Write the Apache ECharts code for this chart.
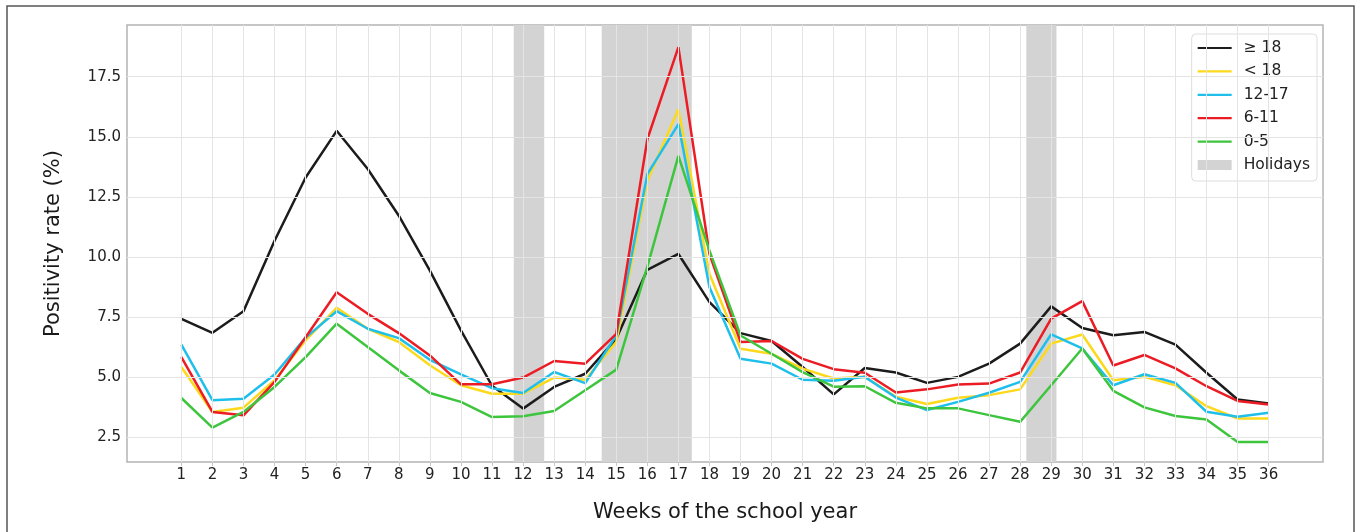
<!DOCTYPE html>
<html>
<head>
<meta charset="utf-8">
<script src="https://cdn.jsdelivr.net/npm/echarts@6/dist/echarts.min.js"></script>
<style>
	html,body{margin:0;padding:0;background:#fff}
	#chart{width:1362px;height:532px}
</style>
</head>
<body>
<div id="chart"></div>
<script>
var weeks = [1,2,3,4,5,6,7,8,9,10,11,12,13,14,15,16,17,18,19,20,21,22,23,24,25,26,27,28,29,30,31,32,33,34,35,36];
var yTicks = [2.5, 5.0, 7.5, 10.0, 12.5, 15.0, 17.5];
// holiday spans, in weeks
var holidays = [[11.7, 12.68], [14.53, 17.43], [28.2, 29.17]];

var ge18 = [7.43,6.85,7.75,10.68,13.31,15.25,13.66,11.72,9.44,6.95,4.65,3.70,4.60,5.15,6.60,9.47,10.13,8.13,6.84,6.51,5.43,4.29,5.39,5.20,4.77,5.02,5.57,6.40,7.95,7.05,6.75,6.89,6.36,5.19,4.08,3.91];
var lt18 = [5.43,3.56,3.74,4.88,6.54,7.89,7.02,6.47,5.50,4.67,4.32,4.32,4.99,4.90,6.47,13.17,16.15,9.30,6.19,5.98,5.36,4.95,5.02,4.19,3.89,4.15,4.26,4.50,6.40,6.78,4.88,5.02,4.67,3.80,3.29,3.29];
var a1217 = [6.36,4.05,4.11,5.12,6.65,7.75,7.02,6.63,5.73,5.12,4.55,4.35,5.22,4.76,6.74,13.45,15.53,8.75,5.77,5.57,4.90,4.86,5.02,4.16,3.64,3.98,4.36,4.81,6.79,6.20,4.67,5.13,4.77,3.57,3.36,3.53];
var a611 = [5.84,3.56,3.42,4.81,6.67,8.54,7.64,6.84,5.91,4.71,4.71,4.99,5.68,5.57,6.81,14.90,18.73,10.13,6.47,6.51,5.77,5.34,5.19,4.37,4.50,4.70,4.74,5.20,7.44,8.17,5.49,5.93,5.37,4.63,4.02,3.87];
var a05 = [4.14,2.91,3.56,4.60,5.84,7.23,6.26,5.29,4.35,3.98,3.35,3.38,3.60,4.46,5.32,9.60,14.21,10.27,6.74,5.98,5.22,4.61,4.63,3.94,3.71,3.71,3.43,3.15,4.67,6.20,4.44,3.75,3.39,3.25,2.31,2.31];

var groups = [
	{name: '≥ 18', data: ge18, color: '#1c1c1c'},
	{name: '< 18', data: lt18, color: '#fcd91b'},
	{name: '12-17', data: a1217, color: '#1fbfeb'},
	{name: '6-11', data: a611, color: '#ec1c24'},
	{name: '0-5', data: a05, color: '#3dc53d'}
];

var font = 'DejaVu Sans';
var myChart = echarts.init(document.getElementById('chart'));

var series = [
	{
		name: 'Holidays',
		type: 'line',
		data: [],
		color: '#d3d3d3',
		z: 1,
		markArea: {
			silent: true,
			itemStyle: {color: '#d3d3d3'},
			data: holidays.map(function (h) { return [{xAxis: h[0]}, {xAxis: h[1]}]; })
		}
	},
	{
		name: 'grid',
		type: 'line',
		data: [],
		z: 2,
		markLine: {
			silent: true,
			symbol: ['none', 'none'],
			label: {show: false},
			lineStyle: {color: '#e4e4e4', width: 1, type: 'solid'},
			data: weeks.map(function (w) { return {xAxis: w}; })
				.concat(yTicks.map(function (v) { return {yAxis: v}; }))
		}
	}
];
groups.forEach(function (g) {
	series.push({
		name: g.name,
		type: 'line',
		z: 3,
		symbol: 'none',
		color: g.color,
		lineStyle: {width: 2.5, color: g.color},
		data: weeks.map(function (w, i) { return [w, g.data[i]]; })
	});
});

// legend: thin bar (full 34x10 box so it is not stretched) for the groups, grey patch for holidays
var lineIcon = 'path://M0,0L0.01,0M0,3.9L34,3.9L34,6.1L0,6.1ZM34,10L33.99,10';
var legendData = groups.map(function (g) {
	return {name: g.name, icon: lineIcon, itemStyle: {borderWidth: 0}};
}).concat([{name: 'Holidays', icon: 'rect', itemStyle: {borderWidth: 0}}]);

var option = {
	animation: false,
	textStyle: {fontFamily: font},
	grid: {
		left: 127, right: 39, top: 25, bottom: 70,
		show: true, borderColor: '#b4b4b4', borderWidth: 1.5
	},
	legend: {
		orient: 'vertical',
		right: 45, top: 34,
		itemWidth: 34, itemHeight: 10, itemGap: 7.4,
		padding: [6, 7, 8, 6],
		backgroundColor: '#fff',
		borderColor: '#dddddd', borderWidth: 1, borderRadius: 4,
		textStyle: {fontFamily: font, fontSize: 15.5, lineHeight: 16, color: '#222', padding: [0, 0, 0, 7]},
		data: legendData
	},
	xAxis: {
		type: 'value',
		min: -0.75, max: 37.75,
		name: 'Weeks of the school year',
		nameLocation: 'middle', nameGap: 40,
		nameTextStyle: {fontFamily: font, fontSize: 21, color: '#1a1a1a'},
		axisLine: {show: false},
		axisTick: {show: true, customValues: weeks, length: 4, lineStyle: {color: '#c8c8c8'}},
		axisLabel: {customValues: weeks, fontFamily: font, fontSize: 15, color: '#222', margin: 6},
		splitLine: {show: false}
	},
	yAxis: {
		type: 'value',
		min: 1.48, max: 19.65,
		name: 'Positivity rate (%)',
		nameLocation: 'middle', nameGap: 63,
		nameTextStyle: {fontFamily: font, fontSize: 21, color: '#1a1a1a'},
		axisLine: {show: false},
		axisTick: {show: true, customValues: yTicks, length: 4, lineStyle: {color: '#c8c8c8'}},
		axisLabel: {
			customValues: yTicks, fontFamily: font, fontSize: 15, color: '#222', margin: 6,
			formatter: function (v) { return v.toFixed(1); }
		},
		splitLine: {show: false}
	},
	graphic: [{
		type: 'rect',
		shape: {x: 7, y: 6, width: 1347, height: 540},
		style: {fill: 'none', stroke: '#555', lineWidth: 1.5},
		silent: true
	}],
	series: series
};

myChart.setOption(option);
</script>
</body>
</html>
